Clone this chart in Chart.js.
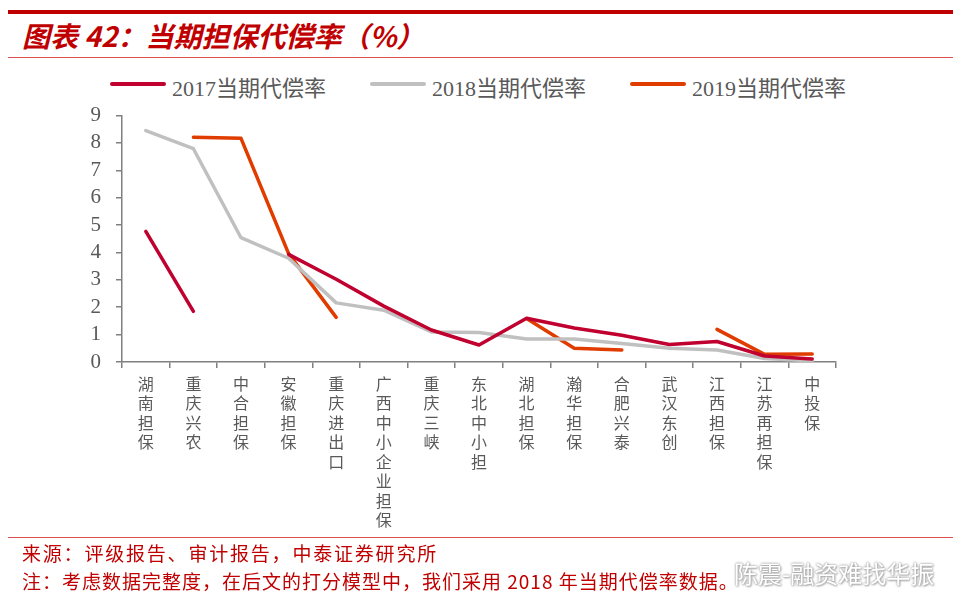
<!DOCTYPE html>
<html>
<head>
<meta charset="utf-8">
<script src="https://cdn.jsdelivr.net/npm/chart.js@4"></script>
<style>
  body { margin: 0; width: 953px; height: 594px; background: #fff; position: relative; overflow: hidden; font-family: "Noto Sans CJK SC", sans-serif; }
  .rule-top { position: absolute; left: 8px; right: 0; top: 10px; height: 4px; background: #c00000; }
  .rule-mid { position: absolute; left: 8px; right: 0; top: 57px; height: 1px; background: #e05050; }
  .rule-bot { position: absolute; left: 8px; right: 0; top: 537px; height: 1px; background: #e05050; }
  .title { position: absolute; left: 22px; top: 15px; font-size: 28px; font-weight: bold; font-style: italic; color: #c00000; white-space: nowrap; }
  .legend { position: absolute; top: 70px; left: 0; font-family: "Liberation Serif", "Noto Sans CJK SC", serif; font-size: 22px; color: #595959; }
  .legend span.line { position: absolute; top: 12px; height: 4px; width: 56px; border-radius: 2px; }
  .legend span.txt { position: absolute; top: 0; white-space: nowrap; }
  .foot { position: absolute; left: 22px; font-size: 19px; color: #c00000; white-space: nowrap; }
  .mark { position: absolute; left: 734px; top: 555px; font-size: 24px; color: #fff; white-space: nowrap;
          text-shadow: 0 0 2px #999, 0 0 3px #bbb, 1px 1px 2px #aaa; }
  #wrap { position: absolute; left: 0; top: 88px; width: 953px; height: 452px; }
</style>
</head>
<body>
<div class="rule-top"></div>
<div class="title">图表 42：当期担保代偿率（%）</div>
<div class="rule-mid"></div>
<div class="legend">
  <span class="line" style="left:110px;background:#c0002f"></span><span class="txt" style="left:172px">2017当期代偿率</span>
  <span class="line" style="left:370px;background:#c0c0c0"></span><span class="txt" style="left:432px">2018当期代偿率</span>
  <span class="line" style="left:630px;background:#e03c00"></span><span class="txt" style="left:692px">2019当期代偿率</span>
</div>
<div id="wrap"><canvas id="chart"></canvas></div>
<div class="rule-bot"></div>
<div class="foot" style="top:539px;letter-spacing:1.8px">来源：评级报告、审计报告，中泰证券研究所</div>
<div class="foot" style="top:567px;letter-spacing:1px">注：考虑数据完整度，在后文的打分模型中，我们采用 2018 年当期代偿率数据。</div>
<div class="mark">陈震-融资难找华振</div>
<script>
// 担保公司
const companies = ["湖南担保", "重庆兴农", "中合担保", "安徽担保", "重庆进出口", "广西中小企业担保",
  "重庆三峡", "东北中小担", "湖北担保", "瀚华担保", "合肥兴泰", "武汉东创", "江西担保", "江苏再担保", "中投保"];

// 当期代偿率 (%)
const rate2017 = [4.77, 1.85, null, 3.93, 3.02, 2.04, 1.17, 0.62, 1.60, 1.24, 0.98, 0.64, 0.75, 0.22, 0.11];
const rate2018 = [8.45, 7.79, 4.54, 3.79, 2.16, 1.89, 1.10, 1.08, 0.84, 0.84, 0.68, 0.50, 0.44, 0.13, 0.04];
const rate2019 = [null, 8.21, 8.17, 3.96, 1.63, null, null, null, 1.59, 0.50, 0.44, null, 1.19, 0.28, 0.29];

const yTicks = [0, 1, 2, 3, 4, 5, 6, 7, 8, 9];

const axisColor = "#808080";
const textColor = "#595959";

const ctx = document.getElementById("chart").getContext("2d");
new Chart(ctx, {
  type: "line",
  data: {
    labels: companies.map((c) => c.split("")), // 竖排
    datasets: [
      { label: "2017当期代偿率", data: rate2017, borderColor: "#c0002f", borderWidth: 3.5 },
      { label: "2018当期代偿率", data: rate2018, borderColor: "#c0c0c0", borderWidth: 3.5 },
      { label: "2019当期代偿率", data: rate2019, borderColor: "#e03c00", borderWidth: 3.5 },
    ],
  },
  options: {
    responsive: true,
    maintainAspectRatio: false,
    animation: false,
    spanGaps: false,
    elements: { point: { radius: 0 }, line: { tension: 0, borderCapStyle: "round", borderJoinStyle: "round" } },
    layout: { padding: { left: 0, right: 117, top: 8, bottom: 0 } },
    plugins: { legend: { display: false }, tooltip: { enabled: false } },
    scales: {
      x: {
        offset: true,
        grid: { offset: true, drawOnChartArea: false, drawTicks: true, tickLength: 6, color: axisColor, lineWidth: 1.5 },
        border: { color: axisColor, width: 1.5 },
        ticks: {
          autoSkip: false, maxRotation: 0, minRotation: 0, padding: 6,
          color: textColor,
          font: { family: "'Noto Sans CJK SC', sans-serif", size: 16, lineHeight: 1.22 },
        },
        afterFit: (s) => { s.height = 178; },
      },
      y: {
        min: 0, max: 9,
        afterBuildTicks: (s) => { s.ticks = yTicks.map((v) => ({ value: v })); },
        grid: { drawOnChartArea: false, drawTicks: true, tickLength: 6, color: axisColor, lineWidth: 1.5 },
        border: { color: axisColor, width: 1.5 },
        ticks: {
          autoSkip: false, padding: 15, color: textColor,
          font: { family: "'Liberation Serif', serif", size: 21 },
        },
        afterFit: (s) => { s.width = 122; },
      },
    },
  },
});
</script>
</body>
</html>
